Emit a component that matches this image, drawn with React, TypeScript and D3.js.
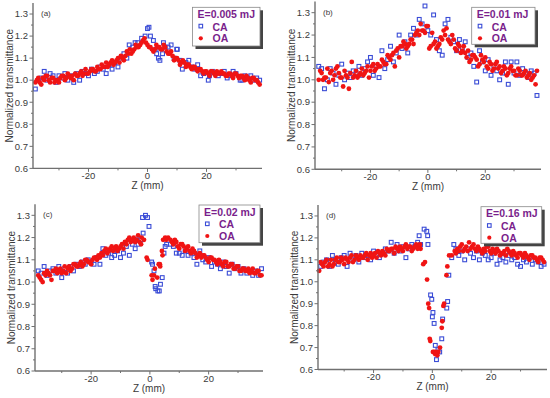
import React from "react";
import * as d3 from "d3";

// ---------- tick / label data ----------
const Z_TICKS = [-20, 0, 20];
const Z_MINOR = [-30, -10, 10, 30];
const T_TICKS = [0.6, 0.7, 0.8, 0.9, 1.0, 1.1, 1.2, 1.3];
const T_MINOR = [0.65, 0.75, 0.85, 0.95, 1.05, 1.15, 1.25];
const PANEL_LABELS = ["(a)", "(b)", "(c)", "(d)"];
const ENERGIES = ["E=0.005 mJ", "E=0.01 mJ", "E=0.02 mJ", "E=0.16 mJ"];
const SERIES_NAMES = ["CA", "OA"];

type P = [number, number];

// ---------- panel (a) ----------
const A_CA: P[] = [[-38,0.96],[-37,1.00],[-36,1.01],[-35,1.04],[-34,1.00],[-33,1.03],[-32,1.02],[-31,0.99],[-30,1.02],[-29,1.01],[-28,1.03],[-27,1.00],[-26,1.02],[-25,0.99],[-24,1.03],[-23,1.00],[-22,1.04],[-21,1.03],[-20,1.02],[-19,1.05],[-18,1.03],[-17,1.04],[-16,1.06],[-15,1.05],[-14,1.03],[-13,1.07],[-12,1.05],[-11,1.08],[-10,1.06],[-9,1.10],[-8,1.12],[-7,1.10],[-6.2,1.16],[-5,1.15],[-4.2,1.17],[-3.3,1.17],[-2,1.19],[-0.8,1.20],[0,1.234],[0.5,1.24],[1,1.20],[2,1.18],[2.9,1.14],[3.1,1.12],[3.7,1.10],[4.2,1.09],[5.1,1.12],[5.4,1.17],[6,1.15],[7,1.15],[8,1.16],[9,1.10],[9.9,1.14],[10.1,1.14],[11,1.09],[11.8,1.05],[13,1.08],[14,1.09],[15,1.06],[16,1.05],[17,1.07],[18,1.02],[19,1.03],[20.6,1.00],[21,1.02],[22,1.04],[23,1.03],[24,1.02],[25,1.03],[26,1.04],[27,1.01],[28,1.02],[29,1.04],[30,1.03],[31.4,1.00],[32,1.00],[33,1.02],[34,1.01],[35,1.02],[36,1.00],[37,1.01],[38,1.00]];
const A_OA: P[] = [[-37.5,1.00],[-36.5,0.99],[-35.5,1.01],[-34.5,1.02],[-33.5,1.00],[-32.5,1.01],[-31.5,0.99],[-30.5,1.00],[-29.5,1.01],[-28.5,1.02],[-27.5,1.01],[-26.5,1.02],[-25.5,1.02],[-24.5,1.03],[-23.5,1.02],[-22.5,1.04],[-21.5,1.03],[-20.5,1.03],[-19.5,1.04],[-18.5,1.05],[-17.5,1.04],[-16.5,1.05],[-15.5,1.07],[-14.5,1.06],[-13.5,1.06],[-12.5,1.08],[-11.5,1.07],[-10.5,1.09],[-9.5,1.08],[-8.5,1.10],[-7.5,1.11],[-6.5,1.12],[-5.5,1.12],[-4.5,1.14],[-3.5,1.15],[-2.5,1.16],[-1.5,1.18],[-0.5,1.17],[0.5,1.15],[1.5,1.14],[2.5,1.14],[3.5,1.15],[4.5,1.14],[5.5,1.16],[6.5,1.13],[7.5,1.12],[8.5,1.11],[9.5,1.10],[10.5,1.09],[11.5,1.08],[12.5,1.08],[13.5,1.07],[14.5,1.06],[15.5,1.06],[16.5,1.05],[17.5,1.05],[18.5,1.04],[19.5,1.04],[20.5,1.03],[21.5,1.04],[22.5,1.03],[23.5,1.04],[24.5,1.03],[25.5,1.03],[26.5,1.02],[27.5,1.03],[28.5,1.02],[29.5,1.03],[30.5,1.02],[31.5,1.02],[32.5,1.01],[33.5,1.02],[34.5,1.00],[35.5,1.01],[36.5,1.00],[37.5,0.99]];
const A_OA2: P[] = [[-38,0.99],[-37,1.01],[-36,0.98],[-35,1.00],[-34,1.02],[-33,0.99],[-32,1.01],[-31,1.00],[-30,0.99],[-29,1.02],[-28,1.00],[-27,1.03],[-26,1.01],[-25,1.00],[-24,1.02],[-23,1.03],[-22,1.02],[-21,1.05],[-20,1.03],[-19,1.05],[-18,1.04],[-17,1.06],[-16,1.05],[-15,1.06],[-14,1.08],[-13,1.07],[-12,1.09],[-11,1.08],[-10,1.10],[-9,1.11],[-8,1.09],[-7,1.13],[-6,1.14],[-5,1.13],[-4,1.16],[-3,1.15],[-2,1.17],[-1,1.19],[0,1.16],[1,1.15],[2,1.13],[3,1.16],[4,1.15],[5,1.14],[6,1.15],[7,1.12],[8,1.13],[9,1.09],[10,1.10],[11,1.07],[12,1.09],[13,1.06],[14,1.07],[15,1.05],[16,1.06],[17,1.04],[18,1.05],[19,1.03],[20,1.04],[21,1.02],[22,1.04],[23,1.02],[24,1.03],[25,1.04],[26,1.03],[27,1.02],[28,1.03],[29,1.01],[30,1.03],[31,1.01],[32,1.02],[33,1.00],[34,1.01],[35,0.99],[36,1.01],[37,1.00],[38,0.98]];

// ---------- panel (b) ----------
const B_CA: P[] = [[-38,1.06],[-37,1.05],[-36,0.96],[-35,1.00],[-34,1.05],[-33,1.03],[-32,0.98],[-31,1.02],[-30,1.07],[-29,1.00],[-28,1.03],[-27,1.01],[-26,1.04],[-25,1.03],[-24,1.06],[-23,1.02],[-22,1.05],[-21,1.08],[-20,1.10],[-19,1.02],[-18,1.06],[-17,1.01],[-16,1.13],[-15,1.05],[-14,1.09],[-13,1.15],[-12,1.08],[-11,1.12],[-10,1.20],[-9,1.14],[-8,1.17],[-7,1.12],[-6,1.20],[-5,1.23],[-4,1.20],[-3,1.27],[-2,1.25],[-1,1.33],[0,1.22],[1,1.20],[2,1.29],[3,1.18],[4,1.13],[5,1.11],[6,1.25],[7,1.27],[8,1.19],[9,1.17],[10,1.13],[11,1.18],[12,1.14],[13,1.17],[14,1.10],[15,1.12],[16,1.06],[17,0.99],[18,1.13],[19,1.08],[20,1.04],[21,1.09],[22,1.02],[23,1.06],[24,1.04],[25,1.00],[26,1.03],[27,1.08],[28,0.98],[29,1.08],[30,1.03],[31,1.08],[32,1.02],[33,1.05],[34,1.03],[35,1.01],[36,1.04],[37,1.03],[38,0.93]];
const B_OA: P[] = [[-37.5,1.04],[-36.5,1.00],[-35.5,1.01],[-34.5,0.99],[-33.5,1.04],[-32.5,1.02],[-31.5,1.06],[-30.5,1.01],[-29.5,0.97],[-28.5,1.02],[-27.5,0.96],[-26.5,1.08],[-25.5,1.02],[-24.5,1.01],[-23.5,1.03],[-22.5,1.02],[-21.5,1.04],[-20.5,1.01],[-19.5,1.06],[-18.5,1.04],[-17.5,1.07],[-16.5,1.06],[-15.5,1.08],[-14.5,1.07],[-13.5,1.10],[-12.5,1.11],[-11.5,1.06],[-10.5,1.14],[-9.5,1.15],[-8.5,1.17],[-7.5,1.14],[-6.5,1.16],[-5.5,1.18],[-4.5,1.20],[-3.5,1.22],[-2.5,1.25],[-1.5,1.22],[-0.5,1.24],[0.5,1.14],[1.5,1.21],[2.5,1.17],[3.5,1.15],[4.5,1.19],[5.5,1.22],[6.5,1.23],[7.5,1.17],[8.5,1.20],[9.5,1.14],[10.5,1.16],[11.5,1.12],[12.5,1.15],[13.5,1.10],[14.5,1.08],[15.5,1.11],[16.5,1.10],[17.5,1.06],[18.5,1.11],[19.5,1.08],[20.5,1.06],[21.5,1.08],[22.5,1.04],[23.5,1.07],[24.5,1.05],[25.5,1.03],[26.5,1.06],[27.5,1.02],[28.5,1.05],[29.5,1.04],[30.5,1.02],[31.5,1.05],[32.5,1.02],[33.5,1.03],[34.5,1.01],[35.5,1.03],[36.5,1.01],[37.5,0.98]];
const B_OA2: P[] = [[-38,1.00],[-37,1.03],[-36,1.01],[-35,1.05],[-34,1.03],[-33,1.00],[-32,1.05],[-31,1.03],[-30,1.01],[-29,1.04],[-28,1.01],[-27,1.03],[-26,1.01],[-25,1.04],[-24,1.02],[-23,1.05],[-22,1.03],[-21,1.06],[-20,1.04],[-19,1.07],[-18,1.05],[-17,1.06],[-16,1.09],[-15,1.07],[-14,1.11],[-13,1.09],[-12,1.12],[-11,1.13],[-10,1.10],[-9,1.15],[-8,1.16],[-7,1.15],[-6,1.18],[-5,1.16],[-4,1.21],[-3,1.20],[-2,1.22],[-1,1.21],[0,1.24],[1,1.15],[2,1.16],[3,1.14],[4,1.16],[5,1.18],[6,1.20],[7,1.18],[8,1.16],[9,1.18],[10,1.13],[11,1.15],[12,1.13],[13,1.12],[14,1.13],[15,1.09],[16,1.11],[17,1.09],[18,1.07],[19,1.09],[20,1.10],[21,1.05],[22,1.07],[23,1.05],[24,1.08],[25,1.06],[26,1.04],[27,1.05],[28,1.03],[29,1.06],[30,1.04],[31,1.02],[32,1.04],[33,1.02],[34,1.04],[35,1.02],[36,1.00],[37,1.02],[38,1.04]];

// ---------- panel (c) ----------
const C_CA: P[] = [[-38,1.05],[-37,1.04],[-36,1.07],[-35,1.03],[-34,1.05],[-33,1.06],[-32,1.04],[-31,1.07],[-30,1.02],[-29,1.06],[-28,1.04],[-27,1.07],[-26,1.05],[-25,1.08],[-24,1.07],[-23,1.09],[-22,1.08],[-21,1.10],[-20,1.09],[-19,1.08],[-18,1.11],[-17,1.08],[-16,1.15],[-15,1.12],[-14,1.13],[-13,1.11],[-12,1.12],[-11,1.14],[-10,1.11],[-9,1.13],[-8,1.16],[-7,1.12],[-6,1.17],[-5,1.15],[-4.5,1.19],[-4,1.17],[-3,1.19],[-2.5,1.29],[-2.3,1.22],[-1.5,1.30],[-0.8,1.29],[-0.3,1.25],[0.6,1.09],[0.9,1.08],[1.4,1.05],[1.8,0.98],[2.0,0.97],[2.7,0.96],[3.2,0.96],[3.6,0.99],[4.2,1.02],[4.8,1.13],[5.2,1.16],[5.7,1.17],[7,1.17],[8,1.16],[9,1.13],[10,1.13],[11,1.12],[12,1.14],[13,1.12],[14,1.13],[15,1.11],[16,1.08],[17,1.14],[18,1.10],[19,1.09],[20,1.11],[21,1.07],[22,1.09],[23,1.08],[24,1.06],[25,1.09],[26,1.07],[27,1.04],[28,1.08],[29,1.06],[30,1.07],[31,1.04],[32,1.06],[33,1.04],[34,1.05],[35,1.03],[36,1.05],[37,1.03],[38,1.06]];
const C_OA: P[] = [[-37.5,1.02],[-36.5,1.00],[-35.5,1.03],[-34.5,1.04],[-33.5,1.01],[-32.5,1.05],[-31.5,1.04],[-30.5,1.06],[-29.5,1.05],[-28.5,1.04],[-27.5,1.07],[-26.5,1.06],[-25.5,1.08],[-24.5,1.07],[-23.5,1.09],[-22.5,1.08],[-21.5,1.10],[-20.5,1.09],[-19.5,1.10],[-18.5,1.11],[-17.5,1.12],[-16.5,1.13],[-15.5,1.14],[-14.5,1.13],[-13.5,1.15],[-12.5,1.14],[-11.5,1.16],[-10.5,1.15],[-9.5,1.17],[-8.5,1.18],[-7.5,1.19],[-6.5,1.18],[-5.5,1.20],[-4.5,1.19],[-3.5,1.18],[-2.8,1.20],[-2,1.19],[-1.1,1.11],[-0.8,1.10],[0.6,1.03],[0.9,1.01],[1.4,1.03],[1.7,1.06],[3.0,1.08],[3.4,1.08],[4.1,1.14],[4.5,1.19],[5.2,1.20],[6.2,1.20],[7.5,1.18],[8.5,1.19],[9.5,1.16],[10.5,1.17],[11.5,1.16],[12.5,1.15],[13.5,1.14],[14.5,1.15],[15.5,1.13],[16.5,1.12],[17.5,1.11],[18.5,1.12],[19.5,1.10],[20.5,1.11],[21.5,1.10],[22.5,1.09],[23.5,1.10],[24.5,1.08],[25.5,1.09],[26.5,1.07],[27.5,1.08],[28.5,1.06],[29.5,1.07],[30.5,1.05],[31.5,1.06],[32.5,1.05],[33.5,1.06],[34.5,1.05],[35.5,1.04],[36.5,1.05],[37.5,1.03]];
const C_OA2: P[] = [[-38,1.03],[-37,1.01],[-36,1.04],[-35,1.05],[-34,1.03],[-33,1.05],[-32,1.06],[-31,1.05],[-30,1.04],[-29,1.07],[-28,1.06],[-27,1.05],[-26,1.08],[-25,1.07],[-24,1.08],[-23,1.07],[-22,1.10],[-21,1.09],[-20,1.08],[-19,1.11],[-18,1.10],[-17,1.11],[-16,1.12],[-15,1.15],[-14,1.14],[-13,1.16],[-12,1.15],[-11,1.14],[-10,1.16],[-9,1.15],[-8,1.17],[-7,1.20],[-6,1.19],[-5,1.18],[-4,1.21],[-3,1.17],[2.5,1.02],[3.5,1.07],[4.3,1.12],[5.6,1.19],[7,1.19],[8,1.17],[9,1.18],[10,1.15],[11,1.17],[12,1.14],[13,1.16],[14,1.13],[15,1.14],[16,1.11],[17,1.13],[18,1.12],[19,1.11],[20,1.09],[21,1.11],[22,1.10],[23,1.08],[24,1.09],[25,1.07],[26,1.09],[27,1.07],[28,1.08],[29,1.06],[30,1.07],[31,1.05],[32,1.06],[33,1.05],[34,1.04],[35,1.06],[36,1.04],[37,1.05],[38,1.03]];

// ---------- panel (d) ----------
const D_CA: P[] = [[-38,1.07],[-37,1.09],[-36,1.10],[-35,1.07],[-34,1.12],[-33,1.10],[-32,1.08],[-31,1.11],[-30,1.12],[-29,1.07],[-28,1.13],[-27,1.10],[-26,1.12],[-25,1.09],[-24,1.13],[-23,1.11],[-22,1.12],[-21,1.10],[-20,1.14],[-19,1.12],[-18,1.11],[-17,1.13],[-16,1.15],[-15,1.14],[-14,1.18],[-13,1.13],[-12,1.17],[-11,1.14],[-10,1.16],[-9,1.11],[-8,1.15],[-7,1.17],[-6,1.16],[-5,1.18],[-4.5,1.21],[-4,1.17],[-2.8,1.24],[-1.9,1.23],[-1.6,1.21],[-1.5,1.17],[-0.6,0.94],[-0.2,0.92],[0.0,0.84],[0.2,0.86],[0.6,0.81],[1.0,0.71],[1.4,0.645],[1.9,0.69],[2.5,0.68],[3.2,0.74],[3.5,0.83],[4.9,0.88],[5.2,0.91],[5.6,1.03],[6.6,1.11],[7.3,1.17],[8,1.15],[9,1.12],[10,1.14],[11,1.10],[12,1.15],[13,1.13],[14,1.11],[15,1.14],[16,1.10],[17,1.13],[18,1.12],[19,1.10],[20,1.11],[21,1.13],[22,1.08],[23,1.10],[24,1.11],[25,1.09],[26,1.12],[27,1.10],[28,1.11],[29,1.08],[30,1.07],[31,1.10],[32,1.09],[33,1.11],[34,1.08],[35,1.10],[36,1.09],[37,1.07],[38,1.08]];
const D_OA: P[] = [[-38.5,1.05],[-37.5,1.08],[-36.5,1.09],[-35.5,1.07],[-34.5,1.10],[-33.5,1.08],[-32.5,1.11],[-31.5,1.09],[-30.5,1.10],[-29.5,1.11],[-28.5,1.09],[-27.5,1.12],[-26.5,1.10],[-25.5,1.11],[-24.5,1.12],[-23.5,1.11],[-22.5,1.13],[-21.5,1.12],[-20.5,1.11],[-19.5,1.13],[-18.5,1.14],[-17.5,1.12],[-16.5,1.13],[-15.5,1.15],[-14.5,1.14],[-13.5,1.15],[-12.5,1.16],[-11.5,1.14],[-10.5,1.15],[-9.5,1.16],[-8.5,1.15],[-7.5,1.16],[-6.5,1.15],[-5.5,1.17],[-4.5,1.16],[-4,1.15],[-3.1,1.08],[-2.5,1.09],[-1.8,1.01],[-1.4,0.90],[-1.1,0.88],[-0.7,0.73],[0.2,0.68],[1.0,0.67],[1.7,0.665],[2.0,0.68],[3.2,0.79],[3.4,0.82],[3.75,0.89],[4.8,1.03],[5.1,1.07],[5.7,1.12],[6.6,1.12],[7.6,1.14],[8.5,1.15],[9.5,1.16],[10.5,1.14],[11.5,1.16],[12.5,1.18],[13.5,1.16],[14.5,1.15],[15.5,1.16],[16.5,1.14],[17.5,1.15],[18.5,1.16],[19.5,1.14],[20.5,1.15],[21.5,1.13],[22.5,1.14],[23.5,1.13],[24.5,1.14],[25.5,1.15],[26.5,1.13],[27.5,1.14],[28.5,1.12],[29.5,1.13],[30.5,1.12],[31.5,1.13],[32.5,1.11],[33.5,1.12],[34.5,1.11],[35.5,1.10],[36.5,1.11],[37.5,1.10]];
const D_OA2: P[] = [[-38,1.09],[-37,1.07],[-36,1.10],[-35,1.08],[-34,1.07],[-33,1.10],[-32,1.09],[-31,1.11],[-30,1.08],[-29,1.10],[-28,1.11],[-27,1.09],[-26,1.12],[-25,1.10],[-24,1.11],[-23,1.12],[-22,1.10],[-21,1.13],[-20,1.12],[-19,1.11],[-18,1.13],[-17,1.14],[-16,1.12],[-15,1.14],[-14,1.15],[-13,1.13],[-12,1.15],[-11,1.16],[-10,1.14],[-9,1.17],[-8,1.16],[-7,1.14],[-6,1.16],[-5,1.15],[-4.2,1.17],[-0.9,0.74],[0.6,0.68],[1.3,0.68],[2.6,0.70],[4.0,0.90],[8,1.13],[9,1.14],[10,1.17],[11,1.15],[12,1.14],[13,1.15],[14,1.17],[15,1.14],[16,1.15],[17,1.13],[18,1.14],[19,1.16],[20,1.13],[21,1.14],[22,1.15],[23,1.12],[24,1.13],[25,1.12],[26,1.14],[27,1.12],[28,1.13],[29,1.11],[30,1.13],[31,1.11],[32,1.12],[33,1.10],[34,1.12],[35,1.11],[36,1.09],[37,1.11],[38,1.09]];

const CA_SETS = [A_CA, B_CA, C_CA, D_CA];
const OA_SETS = [A_OA.concat(A_OA2), B_OA.concat(B_OA2), C_OA.concat(C_OA2), D_OA.concat(D_OA2)];

// ---------- layout (pixel geometry, not data) ----------
const LAYOUT = [
  { left: 33, right: 262, top: 3, bottom: 168.4, xd: [-38.8, 38.8], lg: { x: 192.5, y: 7.3, w: 67.5, h: 38.7 } },
  { left: 315, right: 541, top: 1.5, bottom: 169.3, xd: [-39.3, 39.4], lg: { x: 471.7, y: 7.3, w: 63.3, h: 37 } },
  { left: 35, right: 263, top: 204.2, bottom: 371, xd: [-39.1, 38.5], lg: { x: 199, y: 205, w: 61, h: 37.7 } },
  { left: 318, right: 547, top: 205, bottom: 369.5, xd: [-38.9, 39.0], lg: { x: 481, y: 206.7, w: 60.7, h: 36.6 } },
];

const FONT = "'Liberation Sans', Arial, sans-serif";
const AXIS = "#707070";
const TEXT = "#3a3a3a";
const BLUE = "#3a4cd6";
const RED = "#f01414";
const PURPLE = "#7a1f8c";

function Panel({ i }: { i: number }) {
  const L = LAYOUT[i];
  const x = d3.scaleLinear().domain(L.xd).range([L.left, L.right]);
  const y = d3.scaleLinear().domain([0.6, 1.35]).range([L.bottom, L.top]);
  const ca = CA_SETS[i];
  const oa = OA_SETS[i];
  const midY = (L.top + L.bottom) / 2;
  const lg = L.lg;
  return (
    <g>
      {ca.map((d, k) => (
        <rect key={"c" + k} x={x(d[0]) - 1.9} y={y(d[1]) - 1.9} width={3.8} height={3.8}
          fill="none" stroke={BLUE} strokeWidth={1.1} />
      ))}
      {oa.map((d, k) => (
        <circle key={"o" + k} cx={x(d[0])} cy={y(d[1])} r={2.4} fill={RED} />
      ))}
      <line x1={L.left} x2={L.left} y1={L.top} y2={L.bottom} stroke={AXIS} strokeWidth={1.4} />
      <line x1={L.left} x2={L.right} y1={L.bottom} y2={L.bottom} stroke={AXIS} strokeWidth={1.4} />
      {T_TICKS.map((t) => (
        <g key={"ty" + t}>
          <line x1={L.left - 3.5} x2={L.left} y1={y(t)} y2={y(t)} stroke={AXIS} strokeWidth={1} />
          <text x={L.left - 5} y={y(t) + 3.3} textAnchor="end" fontSize={9.5} fontFamily={FONT} fill={TEXT}>
            {d3.format(".1f")(t)}
          </text>
        </g>
      ))}
      {T_MINOR.map((t) => (
        <line key={"my" + t} x1={L.left - 2} x2={L.left} y1={y(t)} y2={y(t)} stroke={AXIS} strokeWidth={1} />
      ))}
      {Z_TICKS.map((t) => (
        <g key={"tx" + t}>
          <line x1={x(t)} x2={x(t)} y1={L.bottom} y2={L.bottom + 3.5} stroke={AXIS} strokeWidth={1} />
          <text x={x(t)} y={L.bottom + 10.5} textAnchor="middle" fontSize={9.5} fontFamily={FONT} fill={TEXT}>
            {t}
          </text>
        </g>
      ))}
      {Z_MINOR.map((t) => (
        <line key={"mx" + t} x1={x(t)} x2={x(t)} y1={L.bottom} y2={L.bottom + 2} stroke={AXIS} strokeWidth={1} />
      ))}
      <text x={(L.left + L.right) / 2} y={L.bottom + 20.5} textAnchor="middle" fontSize={10} fontFamily={FONT} fill={TEXT}>
        Z (mm)
      </text>
      <text transform={`translate(${L.left - 20.5},${midY}) rotate(-90)`} textAnchor="middle" fontSize={10}
        fontFamily={FONT} fill={TEXT}>
        Normalized transmittance
      </text>
      <text x={L.left + 8} y={L.top + 13} fontSize={8} fontFamily={FONT} fill={TEXT}>
        {PANEL_LABELS[i]}
      </text>
      <rect x={lg.x + 3} y={lg.y + 3} width={lg.w} height={lg.h} fill="#444" />
      <rect x={lg.x} y={lg.y} width={lg.w} height={lg.h} fill="#fff" stroke="#888" strokeWidth={0.8} />
      <text x={lg.x + 5} y={lg.y + 10.5} fontSize={10.5} fontWeight="bold" fontFamily={FONT} fill={PURPLE}>
        {ENERGIES[i]}
      </text>
      <rect x={lg.x + 6.5} y={lg.y + 17} width={3.6} height={3.6} fill="none" stroke={BLUE} strokeWidth={1.1} />
      <text x={lg.x + 20} y={lg.y + 23.2} fontSize={10.5} fontWeight="bold" fontFamily={FONT} fill={PURPLE}>
        {SERIES_NAMES[0]}
      </text>
      <circle cx={lg.x + 8.3} cy={lg.y + 31} r={2.1} fill={RED} />
      <text x={lg.x + 20} y={lg.y + 34.8} fontSize={10.5} fontWeight="bold" fontFamily={FONT} fill={PURPLE}>
        {SERIES_NAMES[1]}
      </text>
    </g>
  );
}

export default function App() {
  return (
    <svg width={550} height={398} style={{ position: "absolute", left: 0, top: 0, background: "#fff" }}>
      <rect x={0} y={0} width={550} height={398} fill="#fff" />
      {[0, 1, 2, 3].map((i) => (
        <Panel key={i} i={i} />
      ))}
    </svg>
  );
}
